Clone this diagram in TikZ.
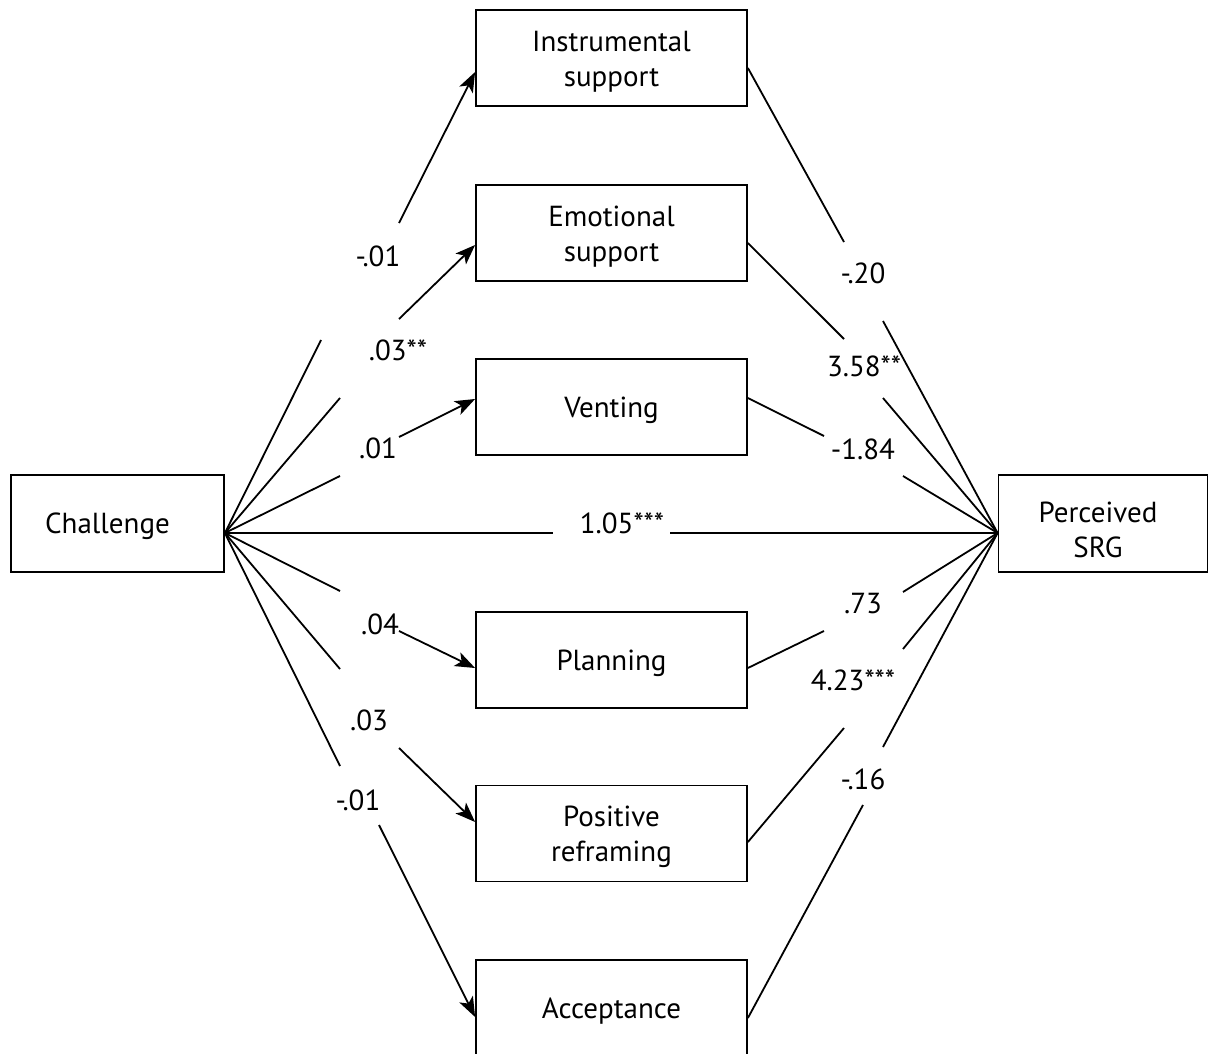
\documentclass[tikz,border=0pt]{standalone}
\usepackage{fontspec}
\setmainfont{PT Sans}
\usetikzlibrary{arrows.meta,calc}
\newcommand{\lowr}{\rule{0pt}{27pt}}
\begin{document}
\begin{tikzpicture}[x=1pt,y=-1pt,
  txt/.style={font=\fontsize{29}{35}\selectfont},
  box/.style={draw,line width=1.8pt,minimum width=271pt,minimum height=96pt,inner sep=0pt,align=center,txt},
  onebox/.style={box,text depth=0pt},
  lab/.style={inner sep=0pt,anchor=base,txt},
  conn/.style={line width=1.8pt},
  arr/.style={conn,-{Stealth[length=20pt,width=15pt,inset=5pt]}}]
\useasboundingbox (0,0) rectangle (1208,1054);
\clip (0,0) rectangle (1208,1054);
% boxes
\node[onebox,minimum width=213pt,minimum height=97pt] (ch) at (117.5,523.5) {Challenge\hspace*{20pt}};
\node[box,minimum width=209pt,minimum height=97pt] (srg) at (1103,523.5) {\rule{0pt}{33pt}Perceived\hspace*{10pt}\\SRG\hspace*{10pt}};
\node[box] (ins) at (611.5,58) {\lowr Instrumental\\support};
\node[box] (emo) at (611.5,233) {\lowr Emotional\\support};
\node[onebox] (ven) at (611.5,407) {Venting};
\node[onebox] (pla) at (611.5,660) {Planning};
\node[box] (pos) at (611.5,833.5) {\lowr Positive\\reframing};
\node[onebox] (acc) at (611.5,1008) {Acceptance};
% attachment points
\coordinate (C) at ($(ch.east)+(0,9.5)$);
\coordinate (S) at ($(srg.west)+(0,9.5)$);
% left gap ends
\coordinate (insA) at (321,340); \coordinate (insB) at (399,223);
\coordinate (emoA) at (340,398); \coordinate (emoB) at (399,319);
\coordinate (venA) at (340,476); \coordinate (venB) at (399,437);
\coordinate (plaA) at (340,591); \coordinate (plaB) at (399,631);
\coordinate (posA) at (340,669); \coordinate (posB) at (399,748);
\coordinate (accA) at (340,766); \coordinate (accB) at (379,825);
\coordinate (dirA) at (553,533); \coordinate (dirB) at (670,533);
% right gap ends
\coordinate (insC) at (844,242); \coordinate (insD) at (883,321);
\coordinate (emoC) at (844,339); \coordinate (emoD) at (883,398);
\coordinate (venC) at (824,436); \coordinate (venD) at (903,476);
\coordinate (plaC) at (824,631); \coordinate (plaD) at (903,592);
\coordinate (posC) at (844,728); \coordinate (posD) at (903,649);
\coordinate (accC) at (863,805); \coordinate (accD) at (883,747);
% left connectors
\draw[conn] (C) -- (insA); \draw[arr] (insB) -- ([yshift=-14pt]ins.west);
\draw[conn] (C) -- (emoA); \draw[arr] (emoB) -- ([yshift=-12pt]emo.west);
\draw[conn] (C) -- (venA); \draw[arr] (venB) -- ([yshift=8pt]ven.west);
\draw[conn] (C) -- (plaA); \draw[arr] (plaB) -- ([yshift=-8pt]pla.west);
\draw[conn] (C) -- (posA); \draw[arr] (posB) -- ([yshift=11.5pt]pos.west);
\draw[conn] (C) -- (accA); \draw[arr] (accB) -- ([yshift=-9pt]acc.west);
\draw[conn] (C) -- (dirA); \draw[conn] (dirB) -- (S);
% right connectors
\draw[conn] ([yshift=-10pt]ins.east) -- (insC); \draw[conn] (insD) -- (S);
\draw[conn] ([yshift=-10pt]emo.east) -- (emoC); \draw[conn] (emoD) -- (S);
\draw[conn] ([yshift=9pt]ven.east) -- (venC); \draw[conn] (venD) -- (S);
\draw[conn] ([yshift=-8pt]pla.east) -- (plaC); \draw[conn] (plaD) -- (S);
\draw[conn] ([yshift=-8.5pt]pos.east) -- (posC); \draw[conn] (posD) -- (S);
\draw[conn] ([yshift=-10pt]acc.east) -- (accC); \draw[conn] (accD) -- (S);
% labels
\node[lab] (l1) at (378,266) {-.01};
\node[lab] (l2) at (398,360) {.03**};
\node[lab] (l3) at (378,458) {.01};
\node[lab] (l4) at (380,634) {.04};
\node[lab] (l5) at (369,730) {.03};
\node[lab] (l6) at (358,810) {-.01};
\node[lab] (l7) at (622,533) {1.05***};
\node[lab] (r1) at (863,283) {-.20};
\node[lab] (r2) at (864,376) {3.58**};
\node[lab] (r3) at (863,459) {-1.84};
\node[lab] (r4) at (863,613) {.73};
\node[lab] (r5) at (853,690) {4.23***};
\node[lab] (r6) at (863,789) {-.16};
\end{tikzpicture}
\end{document}
